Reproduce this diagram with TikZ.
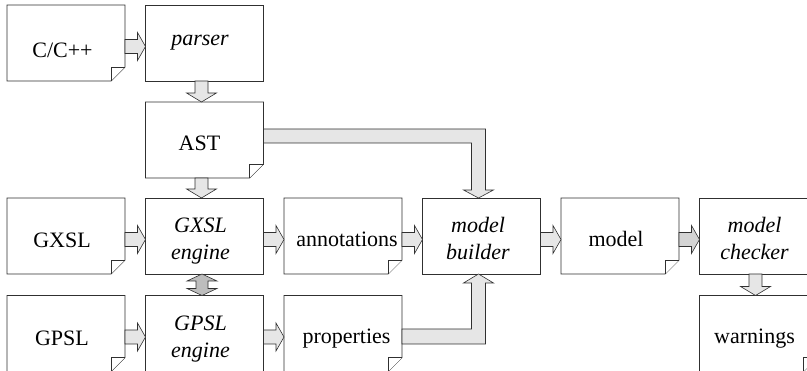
\documentclass[tikz,border=0pt]{standalone}
\usepackage{fontspec}
\setmainfont{Liberation Serif}
\usetikzlibrary{calc}
\definecolor{fillL}{HTML}{E6E6E6}
\definecolor{fillM}{HTML}{D4D4D4}
\definecolor{fillD}{HTML}{BDBDBD}
\definecolor{lineC}{HTML}{303030}
\tikzset{
  box/.style={rectangle, minimum width=118pt, minimum height=76pt, inner sep=0pt, outer sep=0pt},
  procbox/.style={box, draw=lineC, line width=0.8pt, fill=white},
  docline/.style={draw=lineC, line width=0.8pt, fill=white, line join=miter},
  txt/.style={anchor=base, inner sep=0pt, font=\fontsize{22}{27}\selectfont},
  itxt/.style={txt, font=\fontsize{22}{27}\selectfont\itshape},
  blockarrow/.style={draw=lineC, line width=0.6pt, fill=fillL, line join=miter},
}
\newcommand\docshape[1]{%
  \draw[docline] (#1.north west) -- (#1.north east) -- ($(#1.south east)+(0,-14)$) -- ($(#1.south east)+(-14,0)$) -- (#1.south west) -- cycle;
  \draw[docline] ($(#1.south east)+(0,-14)$) -- ($(#1.south east)+(-14,-14)$) -- ($(#1.south east)+(-14,0)$);}
\newcommand\harr[3][fillL]{%
  \draw[blockarrow, fill=#1] ($(#2.east)+(0,-3.5)$) -- ($(#3.west)+(-8,-3.5)$) -- ($(#3.west)+(-8,-10.5)$) -- ($(#3.west)+(0,3.5)$) -- ($(#3.west)+(-8,17.5)$) -- ($(#3.west)+(-8,10.5)$) -- ($(#2.east)+(0,10.5)$) -- cycle;}
\newcommand\varr[3][fillL]{%
  \draw[blockarrow, fill=#1] ($(#2.south)+(-9.5,0)$) -- ($(#3.north)+(-9.5,-9)$) -- ($(#3.north)+(-18,-9)$) -- ($(#3.north)+(-3,0)$) -- ($(#3.north)+(12,-9)$) -- ($(#3.north)+(3.5,-9)$) -- ($(#2.south)+(3.5,0)$) -- cycle;}
\newcommand\twolines[2]{\begin{tabular}[t]{@{}c@{}}#1\\#2\end{tabular}}
\begin{document}
\begin{tikzpicture}[x=1pt, y=-1pt]
\useasboundingbox (0,0) rectangle (807,371);
\clip (0,0) rectangle (807,371);
% boxes
\node[box] (cpp) at (66,43) {}; \docshape{cpp}
\node[procbox] (parser) at (204.5,43) {};
\node[box] (ast) at (204.5,140) {}; \docshape{ast}
\node[box] (gxsl) at (66,236) {}; \docshape{gxsl}
\node[procbox] (gxeng) at (204.5,236) {};
\node[box] (annot) at (343,236) {}; \docshape{annot}
\node[procbox] (mb) at (481.5,236) {};
\node[box] (model) at (620,236) {}; \docshape{model}
\node[procbox] (mc) at (758.5,236) {};
\node[box] (gpsl) at (66,333.5) {}; \docshape{gpsl}
\node[procbox] (gpeng) at (204.5,333.5) {};
\node[box] (props) at (343,333.5) {}; \docshape{props}
\node[box] (warn) at (758.5,333.5) {}; \docshape{warn}
% texts
\node[txt] (cppT) at ($(cpp.north)+(-3.5,53)$) {C/C++};
\node[itxt] (parserT) at ($(parser.north)+(-4.5,41)$) {parser};
\node[txt] (astT) at ($(ast.north)+(-5,49)$) {AST};
\node[txt] (gxslT) at ($(gxsl.north)+(-4,50)$) {GXSL};
\node[itxt] (gxengT) at ($(gxeng.north)+(-4,35)$) {\twolines{GXSL}{engine}};
\node[txt] (annotT) at ($(annot.north)+(4,49)$) {annotations};
\node[itxt] (mbT) at ($(mb.north)+(-3.5,35)$) {\twolines{model}{builder}};
\node[txt] (modelT) at ($(model.north)+(-4,49)$) {model};
\node[itxt] (mcT) at ($(mc.north)+(-4,35)$) {\twolines{model}{checker}};
\node[txt] (gpslT) at ($(gpsl.north)+(-4,50)$) {GPSL};
\node[itxt] (gpengT) at ($(gpeng.north)+(-4,35)$) {\twolines{GPSL}{engine}};
\node[txt] (propsT) at ($(props.north)+(3.5,48)$) {properties};
\node[txt] (warnT) at ($(warn.north)+(-4,48)$) {warnings};
% straight arrows
\harr{cpp}{parser}
\varr{parser}{ast}
\varr{ast}{gxeng}
\harr{gxsl}{gxeng}
\harr{gxeng}{annot}
\harr{annot}{mb}
\harr{mb}{model}
\harr[fillM]{model}{mc}
\varr{mc}{warn}
\harr{gpsl}{gpeng}
\harr{gpeng}{props}
% double arrow
\draw[blockarrow, fill=fillD] ($(gxeng.south)+(-2.5,0)$) -- ($(gxeng.south)+(12.5,7)$) -- ($(gxeng.south)+(3.5,7)$) -- ($(gpeng.north)+(3.5,-7)$) -- ($(gpeng.north)+(12.5,-7)$) -- ($(gpeng.north)+(-2.5,0)$) -- ($(gpeng.north)+(-17.5,-7)$) -- ($(gpeng.north)+(-8.5,-7)$) -- ($(gxeng.south)+(-8.5,7)$) -- ($(gxeng.south)+(-17.5,7)$) -- cycle;
% bent arrows
\draw[blockarrow] ($(ast.east)+(0,-11)$) -- ($(mb.north|-ast.east)+(4,-11)$) -- ($(mb.north)+(4,-8)$) -- ($(mb.north)+(12,-8)$) -- ($(mb.north)+(-3,0)$) -- ($(mb.north)+(-18,-8)$) -- ($(mb.north)+(-10,-8)$) -- ($(mb.north|-ast.east)+(-10,3)$) -- ($(ast.east)+(0,3)$) -- cycle;
\draw[blockarrow] ($(props.east)+(0,-4.5)$) -- ($(mb.south|-props.east)+(-10,-4.5)$) -- ($(mb.south)+(-10,9)$) -- ($(mb.south)+(-18,9)$) -- ($(mb.south)+(-3,0)$) -- ($(mb.south)+(12,9)$) -- ($(mb.south)+(4,9)$) -- ($(mb.south|-props.east)+(4,10.5)$) -- ($(props.east)+(0,10.5)$) -- cycle;
\end{tikzpicture}
\end{document}
